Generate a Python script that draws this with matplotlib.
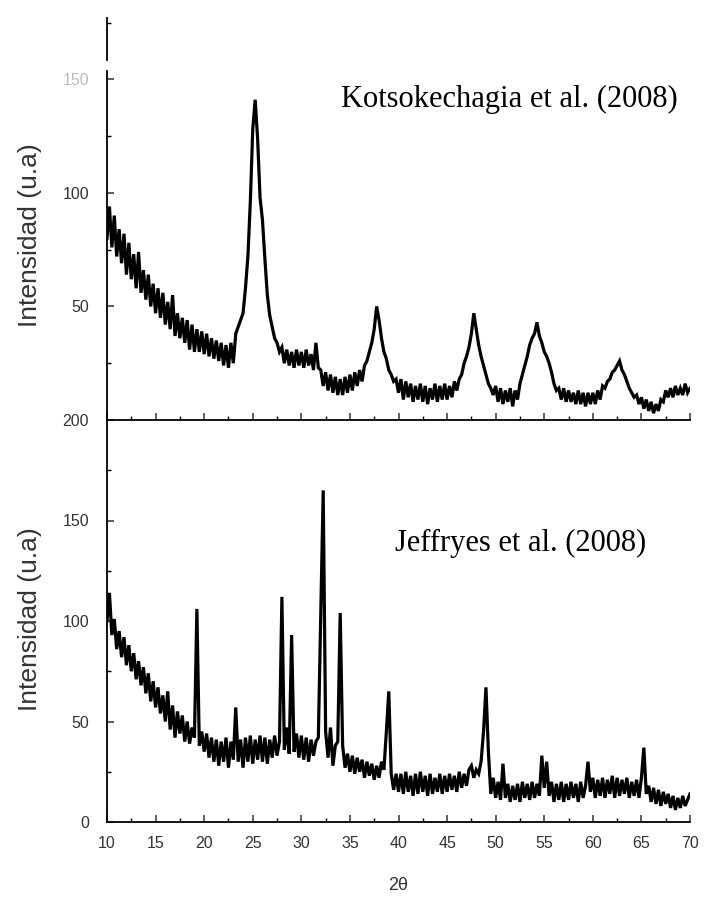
import matplotlib.pyplot as plt
import numpy as np

# barrido 2theta de 10 a 70 grados, paso 0.25
two_theta = np.arange(10, 70.001, 0.25)

# Kotsokechagia et al. (2008)
kotso = [
    80, 94, 76, 90, 72, 84, 69, 82, 64, 78, 62, 73, 58, 74, 56, 66, 53, 64, 50, 60,   # 10-14.75
    47, 58, 45, 56, 42, 52, 40, 55, 37, 47, 36, 45, 34, 44, 31, 42, 30, 40, 30, 39,   # 15-19.75
    29, 38, 28, 36, 27, 35, 26, 34, 24, 33, 23, 34, 25, 38, 41, 44, 47, 58, 72, 96,   # 20-24.75
    128, 141, 124, 98, 88, 71, 55, 46, 41, 36, 34, 30, 32, 25, 31, 24, 30, 23, 31, 24,  # 25-29.75
    30, 23, 31, 24, 29, 22, 34, 23, 22, 15, 21, 13, 20, 12, 19, 11, 18, 11, 19, 12,   # 30-34.75
    20, 13, 21, 15, 22, 17, 24, 26, 30, 34, 40, 50, 44, 36, 30, 27, 22, 20, 17, 18,   # 35-39.75
    12, 18, 9, 17, 10, 16, 8, 15, 9, 16, 8, 15, 7, 14, 9, 16, 8, 15, 9, 16,           # 40-44.75
    9, 15, 10, 17, 13, 18, 20, 25, 28, 32, 38, 47, 40, 33, 28, 24, 20, 16, 14, 11,    # 45-49.75
    15, 8, 14, 7, 13, 8, 14, 6, 13, 9, 16, 20, 24, 28, 33, 36, 38, 43, 37, 34,        # 50-54.75
    30, 28, 25, 21, 16, 13, 14, 9, 14, 8, 13, 8, 12, 7, 13, 7, 12, 6, 12, 7,          # 55-59.75
    12, 7, 13, 9, 15, 14, 17, 18, 21, 22, 24, 26, 22, 20, 17, 14, 12, 10, 11, 7,      # 60-64.75
    10, 5, 9, 4, 8, 3, 7, 4, 9, 8, 13, 10, 14, 10, 15, 11, 14, 11, 16, 12,            # 65-69.75
    14,
]

# Jeffryes et al. (2008)
jeffr = [
    100, 114, 93, 101, 86, 95, 82, 92, 78, 88, 75, 84, 71, 80, 68, 77, 64, 74, 60, 70,  # 10-14.75
    57, 67, 54, 63, 50, 65, 46, 58, 42, 55, 44, 53, 40, 50, 39, 47, 42, 106, 38, 45,    # 15-19.75
    35, 44, 32, 42, 30, 41, 28, 40, 30, 42, 27, 40, 31, 57, 30, 41, 27, 42, 30, 43,     # 20-24.75
    29, 41, 31, 43, 30, 42, 29, 41, 32, 43, 33, 40, 112, 36, 47, 34, 93, 35, 44, 32,    # 25-29.75
    43, 31, 42, 30, 41, 33, 40, 42, 103, 165, 45, 32, 47, 28, 38, 40, 104, 38, 27, 34,  # 30-34.75
    25, 33, 24, 32, 25, 31, 22, 30, 23, 29, 21, 28, 22, 30, 26, 45, 65, 24, 16, 24,     # 35-39.75
    15, 24, 14, 25, 15, 23, 13, 24, 14, 25, 15, 23, 13, 24, 14, 22, 15, 24, 14, 23,     # 40-44.75
    15, 24, 16, 23, 15, 25, 17, 24, 18, 26, 28, 22, 26, 24, 30, 45, 67, 35, 14, 22,     # 45-49.75
    12, 20, 11, 29, 12, 19, 10, 18, 11, 19, 10, 20, 12, 19, 11, 20, 12, 19, 13, 33,     # 50-54.75
    17, 30, 13, 20, 10, 19, 11, 20, 10, 19, 11, 20, 12, 19, 10, 20, 12, 18, 30, 15,     # 55-59.75
    22, 12, 21, 13, 22, 12, 21, 14, 23, 12, 22, 13, 21, 14, 22, 12, 20, 13, 21, 12,     # 60-64.75
    22, 37, 14, 18, 10, 17, 9, 16, 8, 15, 9, 14, 7, 13, 6, 12, 7, 13, 8, 11,            # 65-69.75
    14,
]

SANS = 'Liberation Sans'
SERIF = 'Liberation Serif'

fig = plt.figure(figsize=(7.04, 8.99), dpi=100)
W, H = 704, 899
x0, x1 = 107, 690
ax_bot = fig.add_axes([x0 / W, 1 - 822 / H, (x1 - x0) / W, (822 - 420) / H])
ax_top = fig.add_axes([x0 / W, 1 - 420 / H, (x1 - x0) / W, (420 - 18) / H])

for ax in (ax_top, ax_bot):
    ax.set_facecolor('none')
    ax.set_xlim(10, 70)
    ax.spines['top'].set_visible(False)
    ax.spines['right'].set_visible(False)
    for s in ('left', 'bottom'):
        ax.spines[s].set_linewidth(1.3)
    ax.set_xticks(np.arange(10, 71, 5))
    ax.set_xticks(np.arange(12.5, 70, 5), minor=True)
    ax.tick_params(which='major', direction='in', length=5, width=1.1,
                   labelsize=11.5, pad=13, colors='#333333')
    ax.tick_params(which='minor', direction='in', length=3, width=1.0)

# panel superior
ax_top.plot(two_theta, kotso, color='black', lw=2.3, solid_joinstyle='miter')
ax_top.set_ylim(0, 177)
ax_top.spines['left'].set_visible(False)
# eje vertical con el corte cerca de 150
yt = ax_top.get_yaxis_transform()
ax_top.plot([0, 0], [0, 153.5], transform=yt, color='black', lw=1.3, clip_on=False)
ax_top.plot([0, 0], [158.5, 177], transform=yt, color='black', lw=1.3, clip_on=False)
ax_top.set_yticks([50, 100, 150])
ax_top.set_yticklabels(['50', '100', '150'], family=SANS)
ax_top.set_yticks([25, 75, 125, 175], minor=True)
ax_top.get_yticklabels()[2].set_color('#bbbbbb')
ax_top.tick_params(axis='x', labelbottom=False)
ax_top.text(51.4, 141, 'Kotsokechagia et al. (2008)', family=SERIF, fontsize=22,
            ha='center', va='center')

# panel inferior
ax_bot.plot(two_theta, jeffr, color='black', lw=2.3, solid_joinstyle='miter')
ax_bot.set_ylim(0, 200)
ax_bot.set_yticks([0, 50, 100, 150, 200])
ax_bot.set_yticks([25, 75, 125, 175], minor=True)
ax_bot.tick_params(axis='x', pad=10)
for lab in ax_bot.get_xticklabels() + ax_bot.get_yticklabels():
    lab.set_family(SANS)
ax_bot.text(52.6, 138.5, 'Jeffryes et al. (2008)', family=SERIF, fontsize=22,
            ha='center', va='center')

fig.text(30 / W, 1 - 235 / H, 'Intensidad (u.a)', rotation=90, family=SANS,
         fontsize=19, ha='center', va='center', color='#333333')
fig.text(30 / W, 1 - 619 / H, 'Intensidad (u.a)', rotation=90, family=SANS,
         fontsize=19, ha='center', va='center', color='#333333')
fig.text(398 / W, 1 - 885 / H, '2θ', family=SANS, fontsize=13,
         ha='center', va='center', color='#333333')

fig.savefig('out.png', dpi=100)
